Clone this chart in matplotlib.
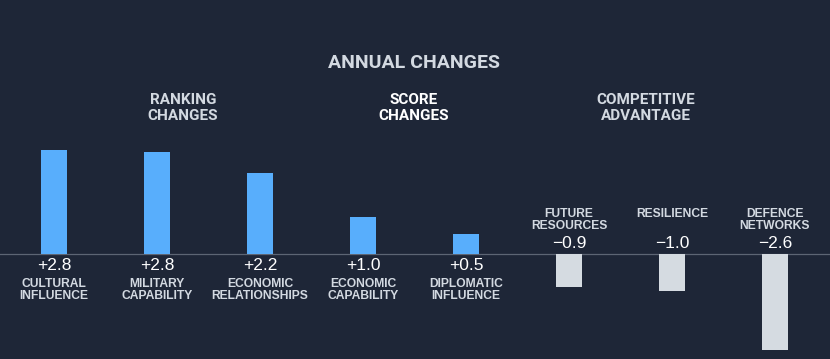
"""Annual changes bar chart on a dark background."""

import matplotlib.pyplot as plt

categories = ["CULTURAL\nINFLUENCE", "MILITARY\nCAPABILITY", "ECONOMIC\nRELATIONSHIPS",
              "ECONOMIC\nCAPABILITY", "DIPLOMATIC\nINFLUENCE",
              "FUTURE\nRESOURCES", "RESILIENCE", "DEFENCE\nNETWORKS"]
values = [2.8, 2.75, 2.2, 1.0, 0.54, -0.9, -1.0, -2.6]
value_labels = ["+2.8", "+2.8", "+2.2", "+1.0", "+0.5", "\u22120.9", "\u22121.0", "\u22122.6"]
group_titles = ["RANKING\nCHANGES", "SCORE\nCHANGES", "COMPETITIVE\nADVANTAGE"]

BG = "#1e2637"
BLUE = "#58aefc"
GREY = "#d5dbe1"
TEXT = "#d3d9e1"


def main():
    fig = plt.figure(figsize=(8.3, 3.59), dpi=100, facecolor=BG)
    ax = fig.add_axes([0, 0, 1, 1])
    ax.set_facecolor(BG)

    xs = list(range(len(values)))
    colors = [BLUE if v > 0 else GREY for v in values]
    ax.bar(xs, values, width=0.26, color=colors, zorder=2)
    ax.axhline(0, color="#5d6574", linewidth=0.9, zorder=1)

    # 103 px per category, 37 px per unit, baseline at y=254 px
    ax.set_xlim(-54 / 103, (830 - 54) / 103)
    ax.set_ylim(-(359 - 254) / 37, 254 / 37)
    ax.axis("off")

    for x, v, lab, cat in zip(xs, values, value_labels, categories):
        if v > 0:
            ax.annotate(lab, (x, 0), xytext=(0, -12), textcoords="offset pixels",
                        ha="center", va="center", color="white", fontsize=12.5,
                        family="Liberation Sans")
            ax.annotate(cat, (x, 0), xytext=(0, -24), textcoords="offset pixels",
                        ha="center", va="top", color=TEXT, fontsize=8.7,
                        fontweight="bold", family="Liberation Sans", linespacing=1.0)
        else:
            ax.annotate(lab, (x, 0), xytext=(0, 11), textcoords="offset pixels",
                        ha="center", va="center", color="white", fontsize=12.5,
                        family="Liberation Sans")
            ax.annotate(cat, (x, 0), xytext=(0, 46), textcoords="offset pixels",
                        ha="center", va="top", color=TEXT, fontsize=8.7,
                        fontweight="bold", family="Liberation Sans", linespacing=1.0)

    fig.text(414 / 830, 1 - 63 / 359, "ANNUAL CHANGES", ha="center", va="center",
             color=TEXT, fontsize=14, family="Roboto", fontweight="bold")
    for gx, title in zip([183, 414, 646], group_titles):
        bold = title.startswith("SCORE")
        fig.text(gx / 830, 1 - 108 / 359, title, ha="center", va="center",
                 color="white" if bold else TEXT, fontsize=11, family="Roboto",
                 fontweight="bold", linespacing=1.15)

    fig.savefig("out.png", dpi=100, facecolor=BG)
    plt.close(fig)


if __name__ == "__main__":
    main()
